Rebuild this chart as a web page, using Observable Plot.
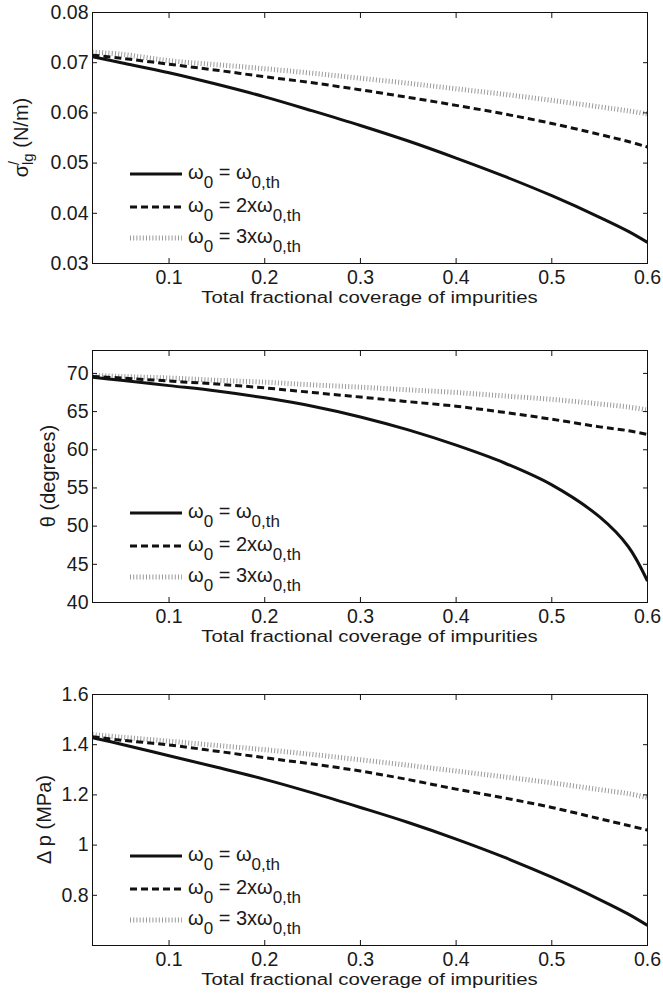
<!DOCTYPE html>
<html><head><meta charset="utf-8">
<script src="https://cdn.jsdelivr.net/npm/d3@7"></script>
<script src="https://cdn.jsdelivr.net/npm/@observablehq/plot@0.6"></script>
<style>
body{margin:0;background:#fff;}
#chart{position:relative;width:663px;height:995px;background:#fff;}
#chart svg{position:absolute;left:0;}
</style></head><body><div id="chart"></div>
<script>
// Total fractional coverage of impurities
const coverage = [0.02, 0.05, 0.1, 0.15, 0.2, 0.25, 0.3, 0.35, 0.4, 0.45, 0.5, 0.55, 0.58, 0.6];

// Panel 1: sigma'_lg (N/m)
const sigmaW1 = [0.0712, 0.0700, 0.0680, 0.0657, 0.0632, 0.0604, 0.0575, 0.0544, 0.0510, 0.0474, 0.0435, 0.0392, 0.0364, 0.0342];
const sigmaW2 = [0.0715, 0.0709, 0.0697, 0.0685, 0.0672, 0.0660, 0.0646, 0.0631, 0.0615, 0.0598, 0.0579, 0.0557, 0.0543, 0.0532];
const sigmaW3 = [0.0721, 0.0717, 0.0704, 0.0696, 0.0688, 0.0679, 0.0669, 0.0659, 0.0648, 0.0637, 0.0625, 0.0612, 0.0604, 0.0598];

// Panel 2: theta (degrees)
const thetaW1 = [69.5, 69.1, 68.4, 67.7, 66.8, 65.7, 64.3, 62.6, 60.6, 58.3, 55.4, 51.2, 47.3, 42.8];
const thetaW2 = [69.6, 69.4, 69.0, 68.6, 68.1, 67.5, 66.9, 66.3, 65.7, 64.9, 64.0, 63.0, 62.5, 62.0];
const thetaW3 = [69.75, 69.6, 69.4, 69.1, 68.85, 68.5, 68.2, 67.85, 67.5, 67.05, 66.6, 66.0, 65.6, 65.2];

// Panel 3: delta p (MPa)
const dpW1 = [1.428, 1.402, 1.356, 1.310, 1.262, 1.208, 1.150, 1.090, 1.024, 0.952, 0.872, 0.783, 0.725, 0.680];
const dpW2 = [1.432, 1.418, 1.399, 1.374, 1.348, 1.323, 1.295, 1.261, 1.223, 1.188, 1.150, 1.105, 1.078, 1.060];
const dpW3 = [1.440, 1.430, 1.414, 1.397, 1.380, 1.361, 1.340, 1.318, 1.295, 1.272, 1.248, 1.221, 1.205, 1.190];

// Tick labels
const xTicks = [0.1, 0.2, 0.3, 0.4, 0.5, 0.6];
const sigmaTicks = [0.03, 0.04, 0.05, 0.06, 0.07, 0.08];
const thetaTicks = [40, 45, 50, 55, 60, 65, 70];
const dpTicks = [0.8, 1, 1.2, 1.4, 1.6];

// Legend entries: [text, isSubscript]
const legendItems = [
  [["ω", 0], ["0", 1], [" = ω", 0], ["0,th", 1]],
  [["ω", 0], ["0", 1], [" = 2xω", 0], ["0,th", 1]],
  [["ω", 0], ["0", 1], [" = 3xω", 0], ["0,th", 1]]
];
const xLabel = "Total fractional coverage of impurities";

const FONT = "'Liberation Sans', Arial, Helvetica, sans-serif";
const styles = [
  {stroke: "#9a9a9a", strokeWidth: 5, strokeDasharray: "1,2.2"},
  {stroke: "#111", strokeWidth: 3, strokeDasharray: "7,4"},
  {stroke: "#111", strokeWidth: 3, strokeDasharray: null}
];

const panels = [
  {top: 0, height: 330, mt: 12, mb: 67, domain: [0.03, 0.08], ticks: sigmaTicks, series: [sigmaW3, sigmaW2, sigmaW1],
   ylab: [["σ", 0], ["/", 2], ["lg", 3], [" (N/m)", 4]], ylabX: 28},
  {top: 330, height: 340, mt: 20, mb: 68, domain: [40, 73], ticks: thetaTicks, series: [thetaW3, thetaW2, thetaW1],
   ylab: [["θ (degrees)", 0]], ylabX: 55},
  {top: 670, height: 325, mt: 24, mb: 50, domain: [0.6, 1.6], ticks: dpTicks, series: [dpW3, dpW2, dpW1],
   ylab: [["Δ p (MPa)", 0]], ylabX: 51}
];

const fmt = d3.format("~g");
const chart = document.getElementById("chart");
const W = 663, ML = 92, MR = 16;

panels.forEach(p => {
  const marks = [];
  p.series.forEach((arr, k) => {
    const data = coverage.map((c, i) => ({c, v: arr[i]}));
    const s = styles[k];
    marks.push(Plot.line(data, {x: "c", y: "v", stroke: s.stroke, strokeWidth: s.strokeWidth,
      strokeDasharray: s.strokeDasharray, strokeLinecap: "butt", curve: "catmull-rom", clip: true}));
  });
  marks.push(
    Plot.frame({stroke: "#111", strokeWidth: 1}),
    Plot.axisX({anchor: "bottom", ticks: xTicks, tickSize: -5, tickPadding: 12, tickFormat: fmt, label: null, stroke: "#111", fill: "#1a1a1a"}),
    Plot.axisX({anchor: "top", ticks: xTicks, tickSize: -5, tickFormat: () => "", label: null, stroke: "#111"}),
    Plot.axisY({anchor: "left", ticks: p.ticks, tickSize: -5, tickPadding: 9, tickFormat: fmt, label: null, stroke: "#111", fill: "#1a1a1a"}),
    Plot.axisY({anchor: "right", ticks: p.ticks, tickSize: -5, tickFormat: () => "", label: null, stroke: "#111"})
  );
  const svg = Plot.plot({
    width: W, height: p.height,
    marginLeft: ML, marginRight: MR, marginTop: p.mt, marginBottom: p.mb,
    x: {domain: [0.02, 0.6]},
    y: {domain: p.domain},
    style: {fontFamily: FONT, fontSize: "19.5px", color: "#111", background: "transparent"},
    marks
  });
  svg.style.top = p.top + "px";
  chart.appendChild(svg);

  const sel = d3.select(svg);
  const bottom = p.height - p.mb;
  const cx = ML + (W - ML - MR) / 2;
  const cy = p.mt + (bottom - p.mt) / 2;

  // x label (slightly widened, as in the reference)
  sel.append("text").attr("transform", `translate(${cx},${bottom + 40}) scale(1.2,1)`).attr("text-anchor", "middle")
    .attr("font-family", FONT).attr("font-size", 17).attr("fill", "#1a1a1a").text(xLabel);

  // y label
  const yl = sel.append("text").attr("transform", `translate(${p.ylabX},${cy}) rotate(-90)`)
    .attr("text-anchor", "middle").attr("font-family", FONT).attr("font-size", 20).attr("fill", "#1a1a1a");
  p.ylab.forEach(([t, kind]) => {
    const ts = yl.append("tspan").text(t);
    if (kind === 2) ts.attr("font-size", 14).attr("dy", -9);
    if (kind === 3) ts.attr("font-size", 15).attr("dx", -4).attr("dy", 14);
    if (kind === 4) ts.attr("dy", -5);
  });

  // legend
  const rowY = [bottom - 89, bottom - 56, bottom - 25];
  const legOrder = [2, 1, 0];
  legOrder.forEach((k, r) => {
    const s = styles[k];
    const y = rowY[r];
    const ln = sel.append("line").attr("x1", 130).attr("x2", 182).attr("y1", y).attr("y2", y)
      .attr("stroke", s.stroke).attr("stroke-width", s.strokeWidth);
    if (s.strokeDasharray) ln.attr("stroke-dasharray", s.strokeDasharray);
    const t = sel.append("text").attr("x", 188).attr("y", y + 5).attr("text-anchor", "start")
      .attr("font-family", FONT).attr("font-size", 20).attr("fill", "#1a1a1a");
    let sub = false;
    legendItems[r].forEach(([txt, isSub]) => {
      const ts = t.append("tspan").text(txt);
      if (isSub && !sub) { ts.attr("dy", 9).attr("font-size", 17); sub = true; }
      else if (!isSub && sub) { ts.attr("dy", -9); sub = false; }
    });
  });
});
</script>
</body></html>
